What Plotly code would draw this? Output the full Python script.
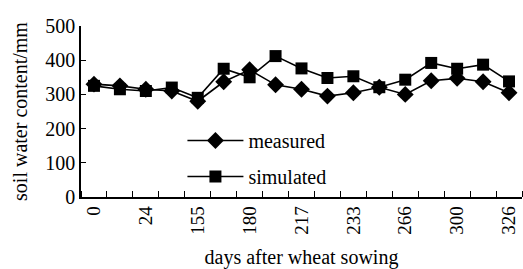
import plotly.graph_objects as go

x_idx = list(range(17))
tick_labels = ["0", "", "24", "", "155", "", "180", "", "217", "", "233", "", "266", "", "300", "", "326"]
measured = [330, 325, 315, 310, 280, 337, 372, 328, 315, 295, 305, 321, 300, 340, 347, 337, 305]
simulated = [325, 315, 310, 320, 290, 375, 350, 412, 376, 348, 353, 321, 343, 392, 375, 387, 338]

font_family = "Liberation Serif"
fs = 20

fig = go.Figure()
fig.add_trace(go.Scatter(
    x=x_idx, y=measured, name="measured", mode="lines+markers",
    line=dict(color="black", width=1.6),
    marker=dict(symbol="diamond", size=13, color="black"),
    legendgroup="m",
))
fig.add_trace(go.Scatter(
    x=x_idx, y=simulated, name="simulated", mode="lines+markers",
    line=dict(color="black", width=1.6),
    marker=dict(symbol="square", size=12, color="black"),
    legendgroup="s",
))

fig.update_layout(
    width=523, height=269,
    margin=dict(l=81, r=1, t=26, b=72, autoexpand=False),
    paper_bgcolor="white", plot_bgcolor="white",
    font=dict(family=font_family, size=fs, color="black"),
    showlegend=True,
    legend=dict(
        x=0.23, y=0.225, xanchor="left", yanchor="middle",
        bgcolor="rgba(0,0,0,0)", itemwidth=56, tracegroupgap=7,
        font=dict(family=font_family, size=fs, color="black"),
    ),
    xaxis=dict(
        range=[-0.5, 16.5], tickmode="array", tickvals=x_idx, ticktext=tick_labels,
        tickangle=-90, ticks="", showgrid=False, zeroline=False,
        showline=True, linecolor="black", linewidth=1.5, automargin=False,
        minor=dict(tickmode="linear", tick0=-0.5, dtick=1, ticks="inside", ticklen=6,
                   tickcolor="black", tickwidth=1, showgrid=False),
        title=dict(text="days after wheat sowing", standoff=17,
                   font=dict(family=font_family, size=fs)),
        tickfont=dict(family=font_family, size=fs - 1),
    ),
    yaxis=dict(
        range=[0, 500], tickvals=[0, 100, 200, 300, 400, 500],
        ticks="inside", ticklen=5, tickcolor="black", tickwidth=1,
        showgrid=False, zeroline=False, automargin=False,
        showline=True, linecolor="black", linewidth=1.5,
        title=dict(text="soil water content/mm", standoff=12,
                   font=dict(family=font_family, size=fs)),
        tickfont=dict(family=font_family, size=fs),
    ),
)

fig.write_html("out.html", config={"displayModeBar": False},
               post_script="document.body.style.margin='0';")
